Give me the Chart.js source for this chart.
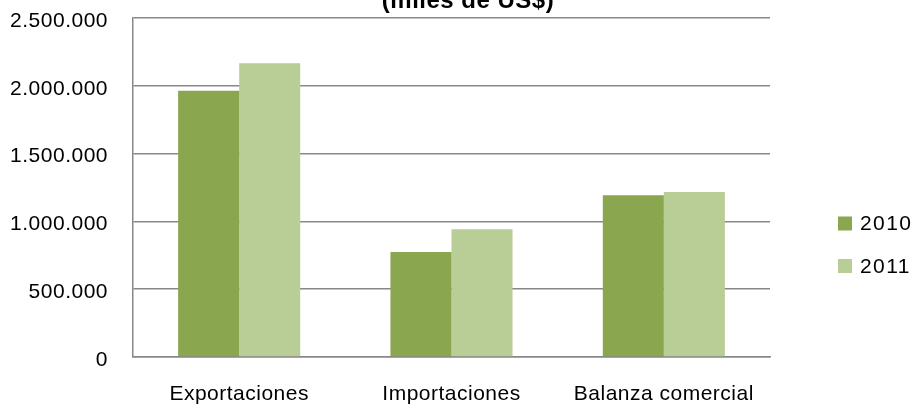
<!DOCTYPE html>
<html>
<head>
<meta charset="utf-8">
<script src="https://cdn.jsdelivr.net/npm/chart.js@4"></script>
<style>
  body { margin: 0; background: #fff; }
  #wrap { width: 917px; height: 408px; }
</style>
</head>
<body>
<div id="wrap"><canvas id="myChart" width="917" height="408"></canvas></div>
<script>
const categorias = ['Exportaciones', 'Importaciones', 'Balanza comercial'];
const serie2010 = [1964000, 774000, 1192000];
const serie2011 = [2166000, 942000, 1217000];
const etiquetas = ['2010', '2011'];
const titulo = '(miles de US$)';

const FONT = "'Liberation Sans', Arial, sans-serif";

function puntos(v) {
  return String(v).replace(/\B(?=(\d{3})+(?!\d))/g, '.');
}

// texto un poco mas ancho, como en el original
const espaciado = {
  id: 'espaciado',
  beforeDraw(chart) { chart.ctx.letterSpacing = '0.5px'; }
};

// titulo cortado arriba + leyenda a la derecha
const extras = {
  id: 'extras',
  afterDraw(chart) {
    const ctx = chart.ctx;
    ctx.save();
    ctx.fillStyle = '#000';
    ctx.letterSpacing = '0.5px';
    ctx.font = 'bold 24px ' + FONT;
    ctx.textAlign = 'center';
    ctx.textBaseline = 'alphabetic';
    ctx.fillText(titulo, 468, 8);

    ctx.letterSpacing = '1.4px';
    ctx.font = '21px ' + FONT;
    ctx.textAlign = 'left';
    ctx.textBaseline = 'middle';
    chart.data.datasets.forEach((ds, i) => {
      const y = 223.5 + i * 42.5;
      ctx.fillStyle = ds.backgroundColor;
      ctx.fillRect(838, y - 7, 14, 14);
      ctx.fillStyle = '#000';
      ctx.fillText(ds.label, 860, y + 1);
    });
    ctx.restore();
  }
};

const ctx = document.getElementById('myChart').getContext('2d');
const myChart = new Chart(ctx, {
  type: 'bar',
  data: {
    labels: categorias,
    datasets: [
      {
        label: etiquetas[0],
        data: serie2010,
        backgroundColor: '#8AA64F',
        borderWidth: 0,
        barPercentage: 1,
        categoryPercentage: 0.575
      },
      {
        label: etiquetas[1],
        data: serie2011,
        backgroundColor: '#B9CE96',
        borderWidth: 0,
        barPercentage: 1,
        categoryPercentage: 0.575
      }
    ]
  },
  options: {
    responsive: false,
    animation: false,
    layout: { padding: { top: 18, right: 147 } },
    plugins: {
      legend: { display: false },
      tooltip: { enabled: false }
    },
    scales: {
      x: {
        grid: { display: false, drawTicks: false },
        border: { display: true, color: '#878787', width: 1.5 },
        ticks: {
          color: '#000',
          padding: 25,
          font: { family: FONT, size: 21 }
        },
        afterFit(axis) { axis.height = 51; }
      },
      y: {
        min: 0,
        max: 2500000,
        grid: { color: '#878787', lineWidth: 1.5, drawTicks: false },
        border: { display: true, color: '#878787', width: 1.5 },
        ticks: {
          stepSize: 500000,
          color: '#000',
          padding: 25,
          labelOffset: 3,
          font: { family: FONT, size: 21 },
          callback: v => puntos(v)
        },
        afterFit(axis) {
          axis.width = 133;
          axis.paddingTop = 0;
          axis.paddingBottom = 0;
        }
      }
    }
  },
  plugins: [espaciado, extras]
});
</script>
</body>
</html>
